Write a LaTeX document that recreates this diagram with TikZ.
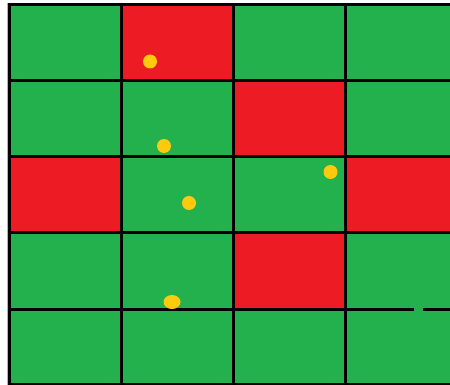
\documentclass[tikz,border=0pt]{standalone}
\usepackage{xcolor}
\usepackage{tikz}
\definecolor{cellgreen}{RGB}{34,177,76}
\definecolor{cellred}{RGB}{237,28,36}
\definecolor{coinyellow}{RGB}{255,201,14}

\begin{document}
\begin{tikzpicture}[
  x=1pt, y=-1pt,
  gridline/.style={line width=3pt, draw=black, line cap=rect},
  rim/.style={line width=0.8pt, draw=black!30},
  coin/.style={fill=coinyellow}
]
\useasboundingbox (0,0) rectangle (450,385);
\fill[white] (0,0) rectangle (450,385);

% board
\fill[cellgreen] (9,5) rectangle (450,384);
\foreach \xa/\ya/\xb/\yb in {121/5/233.5/80.5, 233.5/80.5/345.5/156.5,
    9/156.5/121/232.5, 345.5/156.5/450/232.5, 233.5/232.5/345.5/309}
  \fill[cellred] (\xa,\ya) rectangle (\xb,\yb);

% grid
\draw[rim] (7.2,385) -- (7.2,3.2) -- (450,3.2);
\foreach \gx in {9,121,233.5,345.5}
  \draw[gridline] (\gx,5) -- (\gx,384);
\foreach \gy in {5,80.5,156.5,232.5,384}
  \draw[gridline] (9,\gy) -- (450,\gy);
\draw[gridline] (9,309) -- (412,309);
\draw[gridline] (424.5,309) -- (450,309);

% coins
\fill[coin] (150,61.5) circle (7pt);
\fill[coin] (164,146) circle (7pt);
\fill[coin] (189,203) circle (7pt);
\fill[coin] (330.5,172) circle (7pt);
\fill[coin] (172,302) ellipse [x radius=8.5pt, y radius=7pt];
\end{tikzpicture}
\end{document}
